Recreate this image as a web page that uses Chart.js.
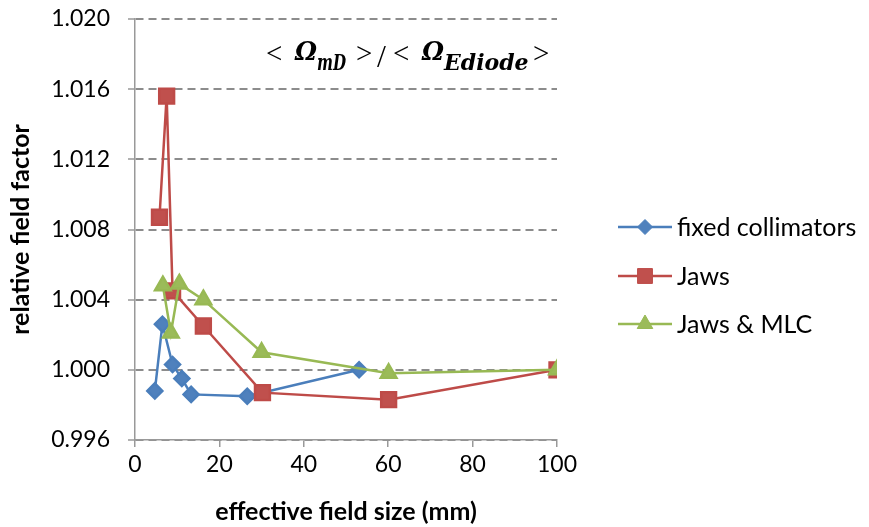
<!DOCTYPE html>
<html>
<head>
<meta charset="utf-8">
<script src="https://cdn.jsdelivr.net/npm/chart.js@4.4.1/dist/chart.umd.min.js"></script>
<style>
  body { margin: 0; background: #fff; }
  #wrap { width: 869px; height: 527px; }
</style>
</head>
<body>
<div id="wrap"><canvas id="grafica" width="869" height="527"></canvas></div>
<script>
// datos
const fixedX = [4.7, 6.5, 8.9, 11.1, 13.3, 26.6, 53.1];
const fixedY = [0.9988, 1.0026, 1.0003, 0.9995, 0.9986, 0.9985, 1.0000];
const jawsX = [5.8, 7.5, 8.9, 16.2, 30.2, 60.1, 100];
const jawsY = [1.0087, 1.0156, 1.0045, 1.0025, 0.9987, 0.9983, 1.0000];
const mlcX = [6.6, 8.5, 10.5, 16.2, 30.0, 60.1, 100];
const mlcY = [1.0048, 1.0021, 1.0049, 1.0040, 1.0010, 0.9998, 1.0000];
const seriesNames = ["fixed collimators", "Jaws", "Jaws & MLC"];
const yTicks = [0.996, 1.000, 1.004, 1.008, 1.012, 1.016, 1.020];
const xTicks = [0, 20, 40, 60, 80, 100];

const FONT = "Lato, 'Open Sans', sans-serif";

function puntos(xs, ys) {
    return xs.map((x, i) => ({ x: x, y: ys[i] }));
}

// leyenda dibujada a mano (linea + marcador)
const leyenda = {
    id: "leyenda",
    afterDraw(chart) {
        const ctx = chart.ctx;
        const filas = [227, 276, 324];
        chart.data.datasets.forEach((ds, i) => {
            const y = filas[i];
            ctx.save();
            ctx.strokeStyle = ds.borderColor;
            ctx.lineWidth = ds.borderWidth;
            ctx.beginPath();
            ctx.moveTo(618, y);
            ctx.lineTo(672, y);
            ctx.stroke();
            ctx.fillStyle = ds.pointBackgroundColor;
            ctx.strokeStyle = ds.pointBorderColor;
            ctx.lineWidth = 1;
            Chart.helpers.drawPoint(ctx, {
                pointStyle: ds.pointStyle,
                radius: ds.pointRadius,
                borderWidth: 1
            }, 645, y);
            ctx.fillStyle = "#000";
            ctx.font = "25px " + FONT;
            ctx.textBaseline = "middle";
            ctx.fillText(seriesNames[i], 677, y + 1);
            ctx.restore();
        });
    }
};

// texto < Omega_mD >/< Omega_Ediode >  (x inicial y ancho de cada trozo)
const formula = {
    id: "formula",
    afterDraw(chart) {
        const ctx = chart.ctx;
        const normal = "29px 'Liberation Serif'";
        const omega = "bold italic 26px 'DejaVu Serif'";
        const sub = "bold italic 22px 'DejaVu Serif'";
        const partes = [
            { t: "<", f: normal, x: 266, w: 17, y: 63 },
            { t: "\u03A9", f: omega, x: 295, w: 22, y: 60 },
            { t: "mD", f: sub, x: 317, w: 29, y: 70 },
            { t: ">", f: normal, x: 356, w: 17, y: 63 },
            { t: "/", f: "32px 'Liberation Serif'", x: 377, w: 11, y: 67 },
            { t: "<", f: normal, x: 393, w: 17, y: 63 },
            { t: "\u03A9", f: omega, x: 422, w: 22, y: 60 },
            { t: "Ediode", f: sub, x: 444, w: 87, y: 70 },
            { t: ">", f: normal, x: 533, w: 17, y: 63 }
        ];
        ctx.save();
        ctx.fillStyle = "#000";
        ctx.textBaseline = "alphabetic";
        partes.forEach(p => {
            ctx.font = p.f;
            ctx.fillText(p.t, p.x, p.y, p.w);
        });
        ctx.restore();
    }
};

const ctx = document.getElementById("grafica").getContext("2d");

new Chart(ctx, {
    type: "line",
    data: {
        datasets: [
            {
                label: seriesNames[0],
                data: puntos(fixedX, fixedY),
                borderColor: "#4a7ebb",
                backgroundColor: "#4a7ebb",
                pointBackgroundColor: "#4f81bd",
                pointBorderColor: "#4a7ebb",
                pointStyle: "rectRot",
                pointRadius: 7.5,
                borderWidth: 2.5,
                order: 3
            },
            {
                label: seriesNames[1],
                data: puntos(jawsX, jawsY),
                borderColor: "#be4b48",
                backgroundColor: "#be4b48",
                pointBackgroundColor: "#c0504d",
                pointBorderColor: "#be4b48",
                pointStyle: "rect",
                pointRadius: 10.5,
                borderWidth: 2.5,
                order: 2
            },
            {
                label: seriesNames[2],
                data: puntos(mlcX, mlcY),
                borderColor: "#98b954",
                backgroundColor: "#98b954",
                pointBackgroundColor: "#9bbb59",
                pointBorderColor: "#98b954",
                pointStyle: "triangle",
                pointRadius: 9,
                borderWidth: 2.5,
                order: 1
            }
        ]
    },
    options: {
        responsive: false,
        animation: false,
        layout: { padding: { left: 0, top: 19, right: 312, bottom: 0 } },
        plugins: {
            legend: { display: false },
            tooltip: { enabled: false }
        },
        scales: {
            x: {
                type: "linear",
                min: 0,
                max: 100,
                afterBuildTicks: s => { s.ticks = xTicks.map(v => ({ value: v })); },
                grid: {
                    drawOnChartArea: false,
                    drawTicks: true,
                    tickLength: 7,
                    color: "#999",
                    lineWidth: 1.5
                },
                border: { color: "#999", width: 1.5 },
                ticks: {
                    color: "#000",
                    font: { family: FONT, size: 23 },
                    padding: 4,
                    maxRotation: 0
                },
                title: {
                    display: true,
                    text: "effective field size (mm)",
                    color: "#000",
                    font: { family: FONT, size: 25, weight: "bold" },
                    padding: { top: 0, bottom: 0 }
                },
                afterFit: s => { s.height = 87; s.paddingLeft = 0; s.paddingRight = 0; }
            },
            y: {
                min: 0.996,
                max: 1.020,
                afterBuildTicks: s => { s.ticks = yTicks.map(v => ({ value: v })); },
                grid: {
                    color: "#8c8c8c",
                    lineWidth: 2,
                    tickLength: 7,
                    tickColor: "#999",
                    tickWidth: 1.5,
                    tickBorderDash: []
                },
                border: { color: "#999", width: 1.5, dash: [8, 5] },
                ticks: {
                    color: "#000",
                    font: { family: FONT, size: 23 },
                    padding: 18,
                    callback: v => v.toFixed(3)
                },
                title: {
                    display: true,
                    text: "relative field factor",
                    color: "#000",
                    font: { family: FONT, size: 25, weight: "bold" },
                    padding: { top: 6, bottom: 0 }
                },
                afterFit: s => { s.width = 135; s.paddingTop = 0; s.paddingBottom = 0; }
            }
        }
    },
    plugins: [leyenda, formula]
});
</script>
</body>
</html>
